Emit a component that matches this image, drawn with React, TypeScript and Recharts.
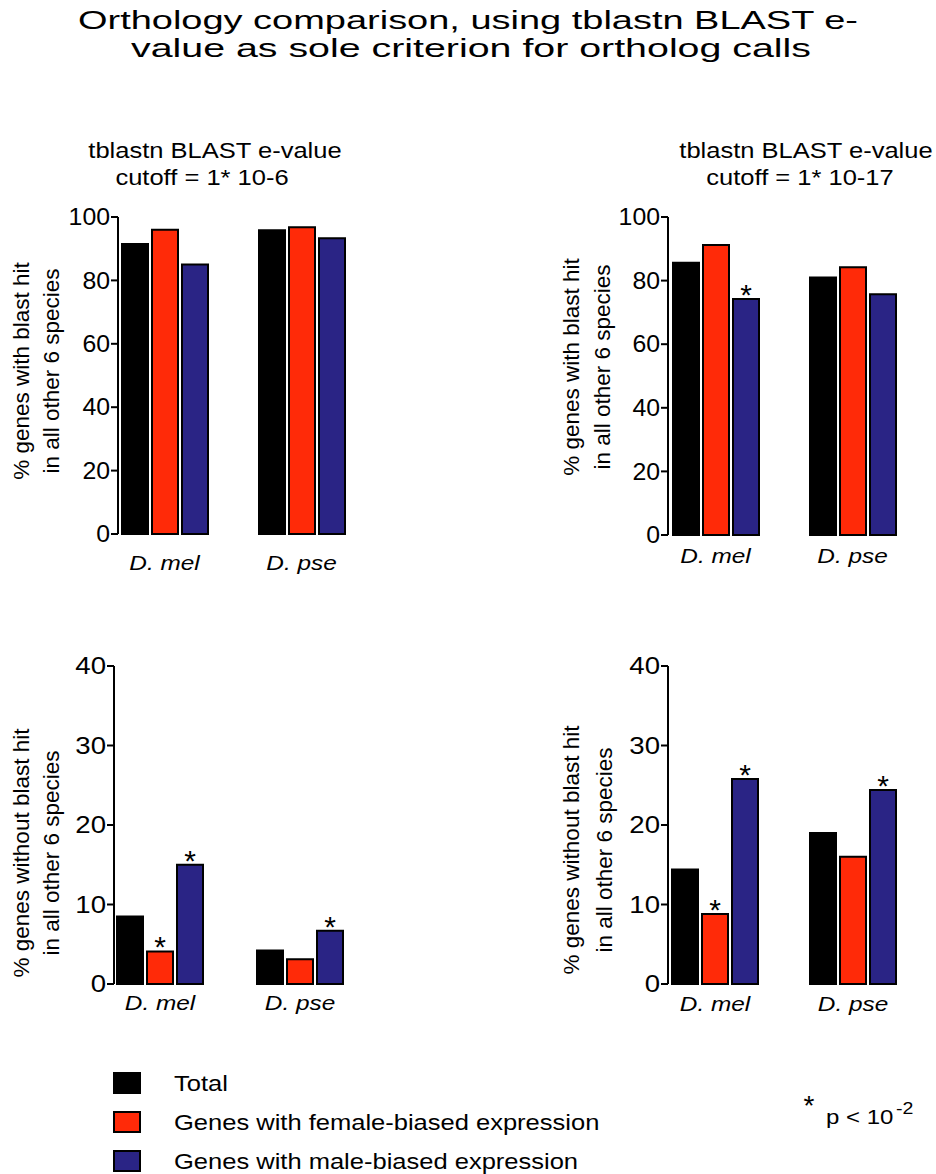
import React from 'react';
import { BarChart, Bar, XAxis, YAxis, LabelList } from 'recharts';

const FONT = '"Liberation Sans", Arial, Helvetica, sans-serif';
const SX = 1.16;

// ---------- data ----------
const species = ['D. mel', 'D. pse'];
const seriesKeys = ['total', 'female', 'male'];
const seriesNames = ['Total', 'Genes with female-biased expression', 'Genes with male-biased expression'];
const seriesColors = ['#000000', '#ff2a08', '#2a2485'];

const hitTicks = [0, 20, 40, 60, 80, 100];
const noHitTicks = [0, 10, 20, 30, 40];

// e-value cutoff 1*10-6, % genes with blast hit
const hit6Total = [91.5, 95.8];
const hit6Female = [96.0, 96.8];
const hit6Male = [85.0, 93.3];
const hit6FemaleSig = ['', ''];
const hit6MaleSig = ['', ''];

// e-value cutoff 1*10-17, % genes with blast hit
const hit17Total = [85.6, 81.0];
const hit17Female = [91.2, 84.2];
const hit17Male = [74.2, 75.7];
const hit17FemaleSig = ['', ''];
const hit17MaleSig = ['*', ''];

// e-value cutoff 1*10-6, % genes without blast hit
const noHit6Total = [8.5, 4.2];
const noHit6Female = [4.1, 3.1];
const noHit6Male = [15.0, 6.7];
const noHit6FemaleSig = ['*', ''];
const noHit6MaleSig = ['*', '*'];

// e-value cutoff 1*10-17, % genes without blast hit
const noHit17Total = [14.4, 19.0];
const noHit17Female = [8.8, 16.0];
const noHit17Male = [25.8, 24.4];
const noHit17FemaleSig = ['*', ''];
const noHit17MaleSig = ['*', '*'];

// ---------- helpers ----------
function SText({ x, y, anchor = 'start', size, sx = SX, italic = false, children }: any) {
  return (
    <g transform={`translate(${x},${y}) scale(${sx},1)`}>
      <text x={0} y={0} textAnchor={anchor} fontSize={size} fontFamily={FONT} fontStyle={italic ? 'italic' : 'normal'} fill="#000">
        {children}
      </text>
    </g>
  );
}

function SigMark(props: any) {
  const vb = props.viewBox && props.viewBox.x !== undefined ? props.viewBox : props;
  const value = props.value;
  if (!value) return null;
  const cx = Number(vb.x) + Number(vb.width) / 2;
  const top = Number(vb.y);
  return (
    <text x={cx} y={top + 6} textAnchor="middle" fontSize={30} fontFamily={FONT} fill="#000">
      {value}
    </text>
  );
}

function Panel({ p }: any) {
  const rows = species.map((s, i) => ({
    species: s,
    total: p.total[i],
    female: p.female[i],
    male: p.male[i],
    femaleSig: p.femaleSig[i],
    maleSig: p.maleSig[i],
  }));
  const yAxisW = p.plotLeft - p.boxLeft;
  const mr = 10;
  const mt = 20;
  const xh = 50;
  const width = p.plotRight - p.boxLeft + mr;
  const height = p.plotBottom - p.plotTop + mt + xh;
  return (
    <div style={{ position: 'absolute', left: p.boxLeft, top: p.plotTop - mt }}>
      <BarChart width={width} height={height} data={rows} margin={{ top: mt, right: mr, bottom: 0, left: 0 }} barSize={26} barGap={4}>
        <XAxis
          dataKey="species"
          axisLine={false}
          tickLine={false}
          tickSize={0}
          tickMargin={0}
          height={xh}
          interval={0}
          padding={{ left: p.padL, right: 0 }}
          tick={(t: any) => (
            <SText x={t.x} y={t.y + p.xdy} anchor="middle" size={21} italic>
              {t.payload.value}
            </SText>
          )}
        />
        <YAxis
          width={yAxisW}
          domain={[0, p.ticks[p.ticks.length - 1]]}
          ticks={p.ticks}
          interval={0}
          tickSize={7}
          tickMargin={1}
          axisLine={{ stroke: '#000', strokeWidth: 2 }}
          tickLine={{ stroke: '#000', strokeWidth: 2 }}
          tick={(t: any) => (
            <SText x={t.x} y={t.y + p.tfs * 0.36} anchor="end" size={p.tfs} sx={p.tsx}>
              {t.payload.value}
            </SText>
          )}
        />
        {seriesKeys.map((k, i) => (
          <Bar key={k} dataKey={k} fill={seriesColors[i]} stroke="#000" strokeWidth={2} isAnimationActive={false}>
            {k !== 'total' ? <LabelList dataKey={k + 'Sig'} content={SigMark} /> : null}
          </Bar>
        ))}
      </BarChart>
    </div>
  );
}

const panels = [
  {
    total: hit6Total, female: hit6Female, male: hit6Male, femaleSig: hit6FemaleSig, maleSig: hit6MaleSig,
    ticks: hitTicks, boxLeft: 0, plotLeft: 118, plotRight: 370, plotTop: 217, plotBottom: 534, padL: -22, xdy: 36, tfs: 23, tsx: 1.08,
  },
  {
    total: hit17Total, female: hit17Female, male: hit17Male, femaleSig: hit17FemaleSig, maleSig: hit17MaleSig,
    ticks: hitTicks, boxLeft: 550, plotLeft: 668, plotRight: 921, plotTop: 217, plotBottom: 535, padL: -21, xdy: 28, tfs: 23, tsx: 1.08,
  },
  {
    total: noHit6Total, female: noHit6Female, male: noHit6Male, femaleSig: noHit6FemaleSig, maleSig: noHit6MaleSig,
    ticks: noHitTicks, boxLeft: 0, plotLeft: 114, plotRight: 370, plotTop: 666, plotBottom: 984, padL: -24, xdy: 26, tfs: 23, tsx: 1.2,
  },
  {
    total: noHit17Total, female: noHit17Female, male: noHit17Male, femaleSig: noHit17FemaleSig, maleSig: noHit17MaleSig,
    ticks: noHitTicks, boxLeft: 550, plotLeft: 668, plotRight: 922, plotTop: 666, plotBottom: 984, padL: -22, xdy: 27, tfs: 23, tsx: 1.2,
  },
];

const hitLabel = ['% genes with blast hit', 'in all other 6 species'];
const noHitLabel = ['% genes without blast hit', 'in all other 6 species'];

function YLabel({ lines, x1, x2, cy }: any) {
  return (
    <g fontFamily={FONT} fontSize={22.5} fill="#000">
      <text transform={`translate(${x1},${cy}) rotate(-90)`} textAnchor="middle">{lines[0]}</text>
      <text transform={`translate(${x2},${cy}) rotate(-90)`} textAnchor="middle">{lines[1]}</text>
    </g>
  );
}

export default function App() {
  const legendY = [1083, 1122, 1161];
  return (
    <div style={{ position: 'absolute', left: 0, top: 0, width: 936, height: 1174, background: '#fff', fontFamily: FONT, overflow: 'hidden' }}>
      <svg width={936} height={1174} style={{ position: 'absolute', left: 0, top: 0 }}>
        <text x={468} y={29} textAnchor="middle" fontSize={25} fontFamily={FONT} textLength={780} lengthAdjust="spacingAndGlyphs">
          Orthology comparison, using tblastn BLAST e-
        </text>
        <text x={471} y={57} textAnchor="middle" fontSize={25} fontFamily={FONT} textLength={680} lengthAdjust="spacingAndGlyphs">
          value as sole criterion for ortholog calls
        </text>

        <SText x={215} y={158} anchor="middle" size={22}>tblastn BLAST e-value</SText>
        <SText x={202} y={185} anchor="middle" size={22}>cutoff = 1* 10-6</SText>
        <SText x={806} y={158} anchor="middle" size={22}>tblastn BLAST e-value</SText>
        <SText x={800} y={185} anchor="middle" size={22}>cutoff = 1* 10-17</SText>

        <YLabel lines={hitLabel} x1={28.5} x2={58.5} cy={371} />
        <YLabel lines={hitLabel} x1={579} x2={610} cy={367} />
        <YLabel lines={noHitLabel} x1={29} x2={59} cy={853} />
        <YLabel lines={noHitLabel} x1={579} x2={612} cy={850} />

        {seriesNames.map((n, i) => (
          <g key={n}>
            <rect x={114} y={legendY[i] - 10} width={26} height={20} fill={seriesColors[i]} stroke="#000" strokeWidth={2} />
            <SText x={174} y={legendY[i] + 8} size={22}>{n}</SText>
          </g>
        ))}

        <text x={809} y={1115} textAnchor="middle" fontSize={28} fontFamily={FONT}>*</text>
        <SText x={826} y={1124} size={20} sx={1.2}>p &lt; 10</SText>
        <SText x={896} y={1114} size={17} sx={1.15}>-2</SText>
      </svg>
      {panels.map((p, i) => (
        <Panel key={i} p={p} />
      ))}
    </div>
  );
}
